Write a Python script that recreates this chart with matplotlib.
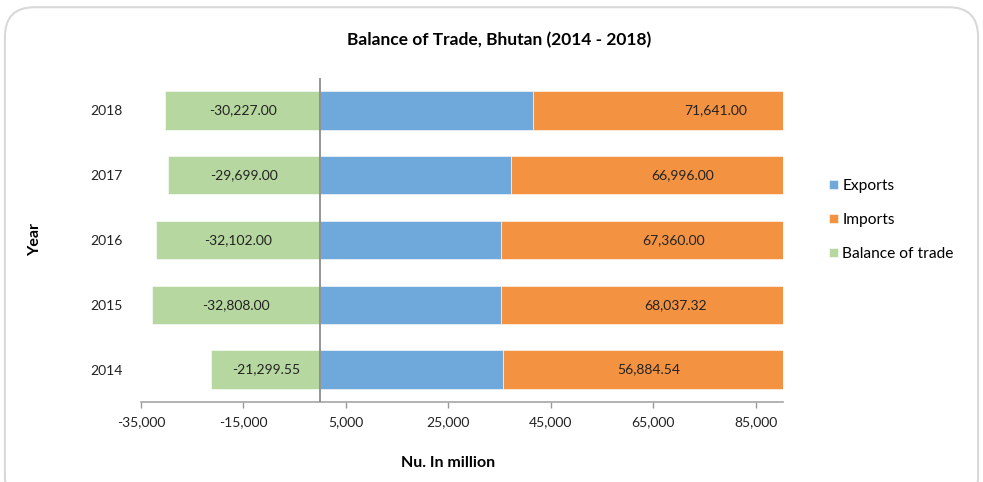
import numpy as np
import matplotlib.pyplot as plt
from matplotlib.patches import FancyBboxPatch

years = ["2014", "2015", "2016", "2017", "2018"]
exports = [35584.99, 35229.32, 35258.00, 37297.00, 41414.00]
imports = [56884.54, 68037.32, 67360.00, 66996.00, 71641.00]
balance = [-21299.55, -32808.00, -32102.00, -29699.00, -30227.00]
xticks = [-35000, -15000, 5000, 25000, 45000, 65000, 85000]

plt.rcParams['font.family'] = ['Lato', 'DejaVu Sans']

c_exp, c_imp, c_bal = "#6FA9DC", "#F39341", "#B7D7A0"

fig = plt.figure(figsize=(9.83, 4.82), dpi=100)
ax = fig.add_axes([141 / 983, 1 - 402 / 482, (783 - 141) / 983, (402 - 78) / 482])

y = np.arange(len(years))
h = 0.59
ax.barh(y, exports, height=h, color=c_exp, edgecolor="white", linewidth=0.4, label="Exports")
ax.barh(y, imports, left=exports, height=h, color=c_imp, edgecolor="white", linewidth=0.4, label="Imports")
ax.barh(y, balance, height=h, color=c_bal, edgecolor="white", linewidth=0.4, label="Balance of trade")

for i in range(len(years)):
    ax.text(balance[i] / 2, y[i], f"{balance[i]:,.2f}", ha="center", va="center", fontsize=10, color="#222222")
    ax.text(exports[i] + imports[i] / 2, y[i], f"{imports[i]:,.2f}", ha="center", va="center", fontsize=10, color="#222222")

ax.set_xlim(-35000, 90300)
ax.set_ylim(-0.5, 4.5)
ax.set_xticks(xticks)
ax.set_xticklabels([f"{t:,}" for t in xticks], fontsize=10, color="#222222")
ax.set_yticks(y)
ax.set_yticklabels(years, fontsize=10, color="#222222")
ax.tick_params(axis="y", length=0, pad=13)
ax.tick_params(axis="x", length=4, color="#999999", width=1, pad=6)

for s in ["top", "right", "left"]:
    ax.spines[s].set_visible(False)
ax.spines["bottom"].set_color("#A6A6A6")
ax.spines["bottom"].set_linewidth(1.2)
ax.axvline(0, color="#8C8C8C", linewidth=1.3, zorder=3)

fig.text(499 / 983, 1 - 40 / 482, "Balance of Trade, Bhutan (2014 - 2018)", ha="center", va="center",
         fontsize=12.5, fontweight="bold")
fig.text(35 / 983, 1 - 240 / 482, "Year", rotation=90, ha="center", va="center", fontsize=11.5, fontweight="bold")
fig.text(448 / 983, 1 - 463 / 482, "Nu. In million", ha="center", va="center", fontsize=11.5, fontweight="bold")

leg = fig.legend(loc="center left", bbox_to_anchor=(815 / 983, 1 - 220 / 482), frameon=False, fontsize=11.2,
                 handlelength=0.55, handleheight=0.55, handletextpad=0.3, labelspacing=1.3)

border = FancyBboxPatch((0.005, -0.05), 0.99, 1.035, boxstyle="round,pad=0,rounding_size=0.03",
                        transform=fig.transFigure, facecolor="none", edgecolor="#D9D9D9", linewidth=1.5,
                        mutation_aspect=2.04)
fig.patches.append(border)

fig.savefig("out.png", dpi=100)
